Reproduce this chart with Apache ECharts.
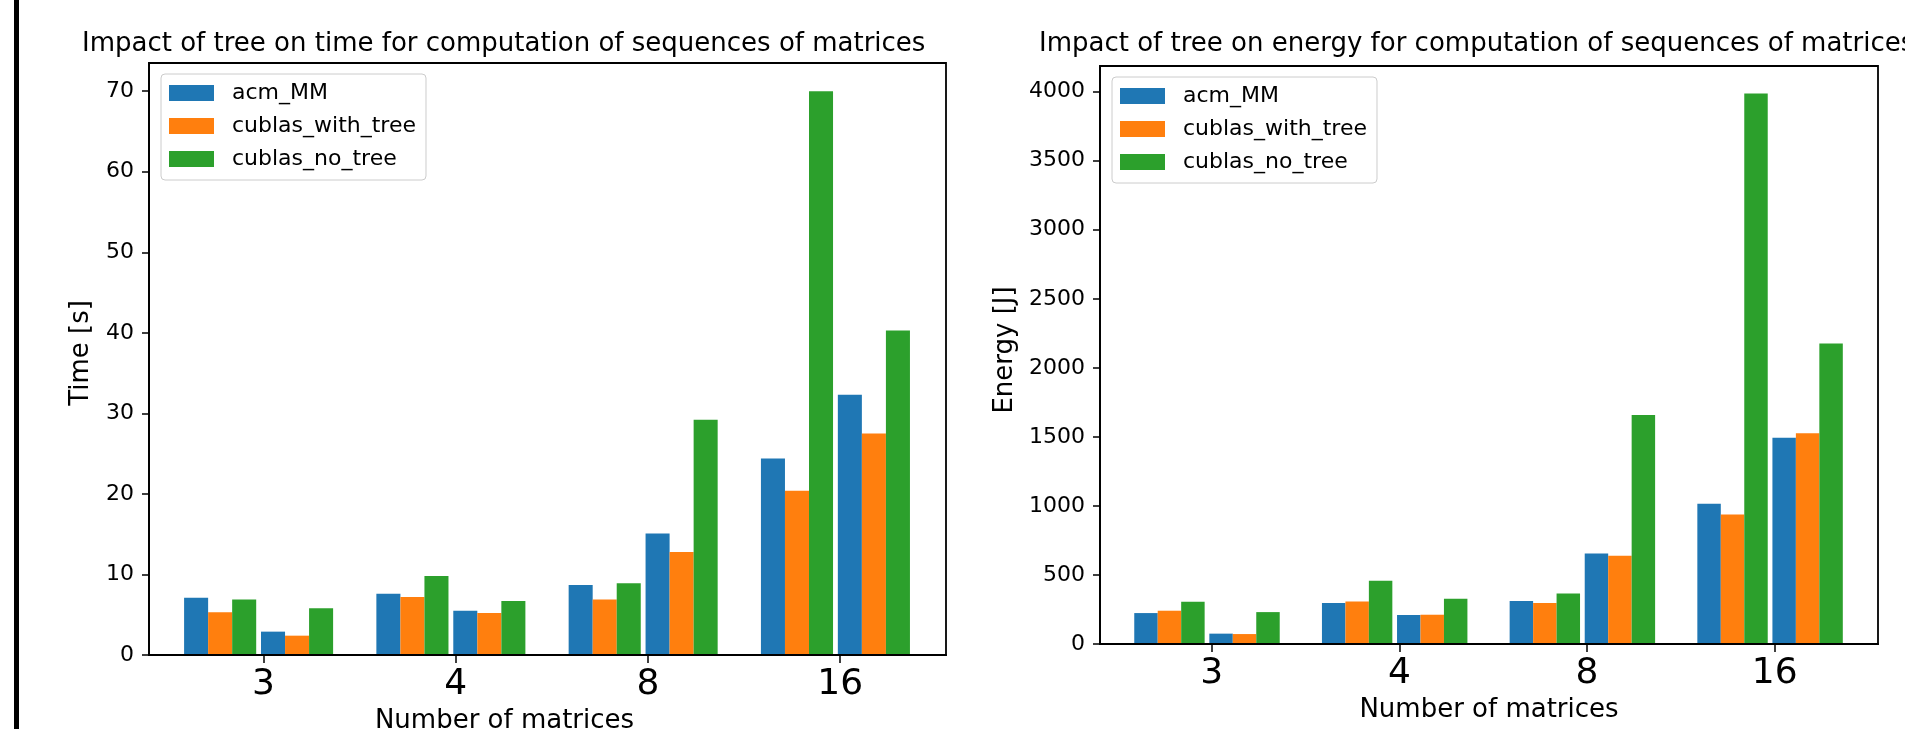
<!DOCTYPE html>
<html>
<head>
<meta charset="utf-8">
<title>Impact of tree on time and energy</title>
<script src="https://cdn.jsdelivr.net/npm/echarts@6/dist/echarts.min.js"></script>
<style>
  html, body { margin: 0; padding: 0; background: #fff; }
  #chart { width: 1905px; height: 729px; }
</style>
</head>
<body>
<div id="chart"></div>
<script>
// number of matrices in the sequence
const categories = ['3', '4', '8', '16']
const seriesNames = ['acm_MM', 'cublas_with_tree', 'cublas_no_tree']
const colors = ['#1f77b4', '#ff7f0e', '#2ca02c']

// time [s] - two runs per category, left group (A) and right group (B)
const timeAcmA = [7.1, 7.6, 8.7, 24.4]
const timeTreeA = [5.3, 7.2, 6.9, 20.4]
const timeNoTreeA = [6.9, 9.8, 8.9, 70.0]
const timeAcmB = [2.9, 5.5, 15.1, 32.3]
const timeTreeB = [2.4, 5.2, 12.8, 27.5]
const timeNoTreeB = [5.8, 6.7, 29.2, 40.3]

// energy [J]
const energyAcmA = [224, 297, 311, 1015]
const energyTreeA = [241, 308, 297, 937]
const energyNoTreeA = [306, 458, 366, 3987]
const energyAcmB = [75, 210, 656, 1494]
const energyTreeB = [72, 212, 639, 1527]
const energyNoTreeB = [231, 328, 1658, 2176]

// tick labels
const timeTicks = [0, 10, 20, 30, 40, 50, 60, 70]
const energyTicks = [0, 500, 1000, 1500, 2000, 2500, 3000, 3500, 4000]
const catTicks = categories.map((c, i) => i)

const FONT = 'DejaVu Sans'
const black = '#000'

function bar(name, color, values, axis) {
  return {
    name: name,
    type: 'bar',
    xAxisIndex: axis,
    yAxisIndex: axis,
    barWidth: '12.5%',
    barGap: '0%',
    itemStyle: { color: color },
    data: values.map((v, i) => [i, v])
  }
}

// empty bar slot, only used to make the small gap between the two groups
function spacer(width, axis) {
  return {
    type: 'bar',
    xAxisIndex: axis,
    yAxisIndex: axis,
    barWidth: width,
    barGap: '0%',
    silent: true,
    data: []
  }
}

function xAxisFor(grid) {
  return {
    type: 'value',
    gridIndex: grid,
    min: -0.595,
    max: 3.55,
    z: 5,
    name: 'Number of matrices',
    nameLocation: 'middle',
    nameGap: 50,
    nameTextStyle: {
      fontSize: 26, color: black, fontFamily: FONT,
      padding: grid === 0 ? [0, 86, 0, 0] : 0
    },
    axisLine: { show: true, onZero: false, lineStyle: { color: black, width: 1.8 } },
    axisTick: { show: true, customValues: catTicks, length: 8, lineStyle: { color: black, width: 1.5 } },
    axisLabel: {
      customValues: catTicks,
      formatter: (v) => categories[Math.round(v)],
      fontSize: 36, color: black, margin: 12, fontFamily: FONT
    },
    splitLine: { show: false }
  }
}

function yAxisFor(grid, name, max, ticks, gap, shift) {
  return {
    type: 'value',
    gridIndex: grid,
    min: 0,
    max: max,
    z: 5,
    name: name,
    nameLocation: 'middle',
    nameGap: gap,
    nameTextStyle: { fontSize: 26, color: black, fontFamily: FONT, padding: [0, 0, 0, shift] },
    axisLine: { show: true, onZero: false, lineStyle: { color: black, width: 1.8 } },
    axisTick: { show: true, customValues: ticks, length: 7, lineStyle: { color: black, width: 1.5 } },
    axisLabel: {
      customValues: ticks,
      formatter: (v) => String(v),
      fontSize: 22, color: black, margin: 15, fontFamily: FONT
    },
    splitLine: { show: false }
  }
}

function legendFor(left, top) {
  return {
    data: seriesNames,
    orient: 'vertical',
    left: left,
    top: top,
    padding: [8, 10, 10, 8],
    itemWidth: 45,
    itemHeight: 16,
    itemGap: 11,
    icon: 'rect',
    borderColor: '#cccccc',
    borderWidth: 1,
    borderRadius: 4,
    backgroundColor: 'rgba(255,255,255,0.8)',
    textStyle: { fontSize: 22, color: black, fontFamily: FONT, padding: [0, 0, 0, 13] }
  }
}

const chart = echarts.init(document.getElementById('chart'))

chart.setOption({
  animation: false,
  backgroundColor: '#fff',
  textStyle: { fontFamily: FONT },
  graphic: [
    { type: 'rect', left: 14, top: 0, shape: { width: 5, height: 729 }, style: { fill: black } }
  ],
  title: [
    {
      text: 'Impact of tree on time for computation of sequences of matrices',
      left: 82, top: 31, padding: 0,
      textStyle: { fontSize: 26, fontWeight: 'normal', color: black, fontFamily: FONT }
    },
    {
      text: 'Impact of tree on energy for computation of sequences of matrices',
      left: 1039, top: 31, padding: 0,
      textStyle: { fontSize: 26, fontWeight: 'normal', color: black, fontFamily: FONT }
    }
  ],
  legend: [legendFor(161, 74), legendFor(1112, 77)],
  grid: [
    {
      left: 149, top: 63, width: 797, height: 592, outerBoundsMode: 'none',
      show: true, borderColor: black, borderWidth: 1.8, backgroundColor: 'transparent'
    },
    {
      left: 1100, top: 66, width: 778, height: 578, outerBoundsMode: 'none',
      show: true, borderColor: black, borderWidth: 1.8, backgroundColor: 'transparent'
    }
  ],
  xAxis: [xAxisFor(0), xAxisFor(1)],
  yAxis: [
    yAxisFor(0, 'Time [s]', 73.5, timeTicks, 55, 12),
    yAxisFor(1, 'Energy [J]', 4186, energyTicks, 82, 10)
  ],
  series: [
    bar(seriesNames[0], colors[0], timeAcmA, 0),
    bar(seriesNames[1], colors[1], timeTreeA, 0),
    bar(seriesNames[2], colors[2], timeNoTreeA, 0),
    spacer('2.5%', 0),
    bar(seriesNames[0], colors[0], timeAcmB, 0),
    bar(seriesNames[1], colors[1], timeTreeB, 0),
    bar(seriesNames[2], colors[2], timeNoTreeB, 0),
    spacer('5%', 0),

    bar(seriesNames[0], colors[0], energyAcmA, 1),
    bar(seriesNames[1], colors[1], energyTreeA, 1),
    bar(seriesNames[2], colors[2], energyNoTreeA, 1),
    spacer('2.5%', 1),
    bar(seriesNames[0], colors[0], energyAcmB, 1),
    bar(seriesNames[1], colors[1], energyTreeB, 1),
    bar(seriesNames[2], colors[2], energyNoTreeB, 1),
    spacer('5%', 1)
  ]
})
</script>
</body>
</html>
